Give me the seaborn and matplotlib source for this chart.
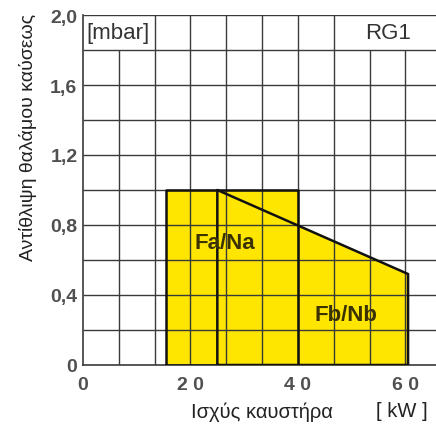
import matplotlib
matplotlib.use("Agg")
import matplotlib.pyplot as plt
import seaborn as sns
import pandas as pd

# ---- data ----
fa_x = [15.4, 40.0]          # Fa/Na rectangle (kW)
fa_top = [1.0, 1.0]          # mbar
fb_x = [25.0, 60.5]          # Fb/Nb trapezoid (kW)
fb_top = [1.0, 0.52]         # mbar
x_ticks = [0, 20, 40, 60]
x_tick_labels = ["0", "2 0", "4 0", "6 0"]
y_ticks = [0, 0.4, 0.8, 1.2, 1.6, 2.0]
y_tick_labels = ["0", "0,4", "0,8", "1,2", "1,6", "2,0"]
labels = ["Fa/Na", "Fb/Nb"]

sns.set_theme(style="white")
plt.rcParams['font.family'] = ['Liberation Sans', 'DejaVu Sans']

fig = plt.figure(figsize=(4.36, 4.31), dpi=100)
ax = fig.add_axes([83/436, 65/431, (436-83)/436, 350/431])
ax.set_xlim(0, 65.7)
ax.set_ylim(0, 2.0)

yellow = "#FFE600"
grid_c = "#3a3a3a"

# fills
ax.fill_between(fa_x, [0, 0], fa_top, color=yellow, zorder=1, lw=0)
ax.fill_between(fb_x, [0, 0], fb_top, color=yellow, zorder=1, lw=0)

# grid
step = 20/3
for k in range(1, 10):
    xv = k*step
    top = 1.8 if k in (1, 8, 9) else 2.0
    ax.vlines(xv, 0, top, color=grid_c, lw=1.0, zorder=2)
for k in range(1, 11):
    ax.hlines(k*0.2, 0, 65.7, color=grid_c, lw=1.0, zorder=2)

# outlines
fa_df = pd.DataFrame({"x": [fa_x[0], fa_x[0], fa_x[1], fa_x[1], fa_x[0]],
                      "y": [0, fa_top[0], fa_top[1], 0, 0]})
fb_df = pd.DataFrame({"x": [fb_x[0], fb_x[0], fb_x[1], fb_x[1], fb_x[0]],
                      "y": [0, fb_top[0], fb_top[1], 0, 0]})
for df in (fa_df, fb_df):
    sns.lineplot(data=df, x="x", y="y", sort=False, estimator=None,
                 color="#111111", lw=1.8, zorder=3, ax=ax)

for s in ["top", "right"]:
    ax.spines[s].set_visible(False)
ax.spines["left"].set_color(grid_c)
ax.spines["bottom"].set_color(grid_c)
ax.spines["left"].set_linewidth(1.2)
ax.spines["bottom"].set_linewidth(1.2)

ax.set_xticks(x_ticks)
ax.set_xticklabels(x_tick_labels)
ax.set_yticks(y_ticks)
ax.set_yticklabels(y_tick_labels)
ax.tick_params(axis="both", length=0, labelsize=14, labelcolor="#505050")
for t in ax.get_xticklabels() + ax.get_yticklabels():
    t.set_fontweight("bold")
ax.tick_params(axis="x", pad=8)
ax.tick_params(axis="y", pad=4)
ax.set_xlabel("")
ax.set_ylabel("")

txt_c = "#3a3200"
ax.text(26.4, 0.70, labels[0], fontsize=16, fontweight="bold", color=txt_c,
        ha="center", va="center", zorder=4)
ax.text(48.9, 0.29, labels[1], fontsize=16, fontweight="bold", color=txt_c,
        ha="center", va="center", zorder=4)
ax.text(0.7, 1.9, "[mbar]", fontsize=16, color="#333333", ha="left", va="center", zorder=4)
ax.text(56.8, 1.9, "RG1", fontsize=16, color="#333333", ha="center", va="center", zorder=4)

fig.text(28/436, 1 - 137/431, "Αντίθλιψη θαλάμου καύσεως", rotation=90,
         fontsize=14, color="#222222", ha="center", va="center")
fig.text(262/436, 1 - 412/431, "Ισχύς καυστήρα", fontsize=14.5, color="#222222",
         ha="center", va="center")
fig.text(402/436, 1 - 412/431, "[ kW ]", fontsize=14.5, color="#222222",
         ha="center", va="center")

fig.savefig("out.png", dpi=100)
